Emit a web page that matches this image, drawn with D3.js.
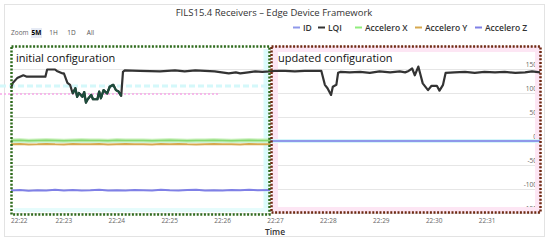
<!DOCTYPE html>
<html>
<head>
<meta charset="utf-8">
<script src="https://cdn.jsdelivr.net/npm/d3@7"></script>
<style>
  body { margin: 0; background: #fff; }
  svg { display: block; font-family: "Open Sans", sans-serif; }
</style>
</head>
<body>
<div id="chart"></div>
<script>
// ---- data (seconds after 22:22:00) ----
var lqiSec = [0,2,7,14,18,39,41,50,52,58,60,64,67,70,73,75,77,81,83,85,87,91,93,98,100,102,105,109,112,116,119,122,125,127,129,146,169,186,197,209,220,231,247,255,260,269,277,285,294,299,311,322,333,345,352,356,359,363,365,369,371,374,384,396,407,418,430,441,447,451,455,458,462,464,467,473,477,483,486,490,493,503,515,526,537,549,560,572,583,591,600];
var lqiVal = [110,121,131,137,134,134,149,149,146,141,141,121,117,99,110,92,100,92,102,80,87,96,87,87,103,89,106,99,113,117,106,103,94,144,147,146,145,147,145,147,146,145,141,143,141,143,145,144,145,146,146,145,146,146,146,117,110,96,113,117,142,144,143,144,142,145,143,145,143,146,151,137,155,141,120,106,115,115,105,117,142,143,144,142,144,143,144,142,143,145,143];

var accSec = [0,10,20,30,40,50,60,70,80,90,100,110,120,130,140,150,160,170,180,190,200,210,220,230,240,250,260,270,280,294];
var accX = [1,1.5,0.5,1,1.5,1,0.5,1,1.5,1,1,0.5,1.5,1,1,1,0.5,1,1.5,1,0.5,1,1,1.5,1,0.5,1,1.5,1,1];
var accY = [-7,-6.5,-7.5,-7,-6,-7,-7.5,-6.5,-7,-7,-6.5,-7.5,-7,-6.5,-7,-7,-7.5,-6.5,-7,-6,-7,-7.5,-7,-6.5,-7,-7,-7.5,-6.5,-7,-7];
var accZ = [-103,-102,-103.5,-102.5,-103,-101.5,-103,-102,-103,-102.5,-101.5,-103,-102.5,-103,-102,-102.5,-103,-101.5,-102.5,-103,-102,-101.5,-103,-102.5,-103,-102,-102.5,-101.5,-102.5,-102];

var idSec = [0, 600];
var idVal = [0, 0];

var yTicks = [-150, -100, -50, 0, 50, 100, 150];
var zoomButtons = ["5M", "1H", "1D", "All"];
var legendNames = ["ID", "LQI", "Accelero X", "Accelero Y", "Accelero Z"];
var colors = ["#8f98ea", "#333333", "#90ed7d", "#d6a84e", "#7f80e6"];

var t0 = new Date(2020, 0, 1, 22, 22, 0);
function toTime(s) { return new Date(t0.getTime() + s * 1000); }

var W = 550, H = 242;
var svg = d3.select("#chart").append("svg").attr("width", W).attr("height", H);

// outer frame
svg.append("rect").attr("x", 4.5).attr("y", 4.5).attr("width", 540).attr("height", 232)
  .attr("fill", "#fff").attr("stroke", "#e3e3e3");

var x = d3.scaleTime().domain([t0, toTime(600)]).range([11, 540]);
var y = d3.scaleLinear().domain([-150, 150]).range([213, 69]);

// title
svg.append("text").attr("x", 274).attr("y", 16).attr("text-anchor", "middle")
  .style("font-size", "9.5px").style("fill", "#333")
  .text("FILS15.4 Receivers \u2013 Edge Device Framework");

// zoom buttons
svg.append("text").attr("x", 11).attr("y", 35).style("font-size", "6.5px").style("fill", "#666").text("Zoom");
svg.append("rect").attr("x", 31).attr("y", 28).attr("width", 11).attr("height", 10).attr("fill", "#e6ebf5");
var bx = [36.5, 53.5, 71.5, 90.5];
zoomButtons.forEach(function(b, i) {
  svg.append("text").attr("x", bx[i]).attr("y", 35).attr("text-anchor", "middle")
    .style("font-size", "6.5px").style("fill", i == 0 ? "#000" : "#555")
    .style("font-weight", i == 0 ? "bold" : "normal").text(b);
});

// legend
var legX = [293, 318, 355, 415, 475];
legendNames.forEach(function(n, i) {
  svg.append("line").attr("x1", legX[i]).attr("x2", legX[i] + 7).attr("y1", 27.5).attr("y2", 27.5)
    .attr("stroke", colors[i]).attr("stroke-width", 2);
  svg.append("text").attr("x", legX[i] + 10).attr("y", 30.5)
    .style("font-size", "8.5px").style("font-weight", 600).style("fill", "#333").text(n);
});

// grid
svg.append("g").selectAll("line").data(yTicks).enter().append("line")
  .attr("x1", 11).attr("x2", 540)
  .attr("y1", function(d) { return y(d) + 0.5; }).attr("y2", function(d) { return y(d) + 0.5; })
  .attr("stroke", "#e6e6e6");

// y labels (right, inside)
svg.append("g").selectAll("text").data(yTicks).enter().append("text")
  .attr("x", 537).attr("y", function(d) { return y(d) - 2; }).attr("text-anchor", "end")
  .style("font-size", "6.5px").style("fill", "#666").text(function(d) { return d; });

// x labels
var fmt = d3.timeFormat("%H:%M");
var xt = x.ticks(d3.timeMinute.every(1)).filter(function(d) { return d < toTime(600); });
svg.append("g").selectAll("text").data(xt).enter().append("text")
  .attr("x", function(d) { return x(d); })
  .attr("y", 223).attr("text-anchor", function(d, i) { return i == 0 ? "start" : "middle"; })
  .style("font-size", "6.5px").style("fill", "#666").text(fmt);

svg.append("text").attr("x", 275).attr("y", 235).attr("text-anchor", "middle")
  .style("font-size", "8.5px").style("font-weight", 600).style("fill", "#333").text("Time");

// annotation tints
svg.append("line").attr("x1", 266).attr("x2", 266).attr("y1", 49).attr("y2", 212)
  .attr("stroke", "#dcfbfb").attr("stroke-width", 5);
svg.append("line").attr("x1", 14).attr("x2", 268).attr("y1", 210).attr("y2", 210)
  .attr("stroke", "#e6fcfc").attr("stroke-width", 4);
svg.append("rect").attr("x", 275).attr("y", 49).attr("width", 263).attr("height", 161)
  .attr("fill", "none").attr("stroke", "#fde6f4").attr("stroke-width", 6);
svg.append("line").attr("x1", 0).attr("x2", 268).attr("y1", 86).attr("y2", 86)
  .attr("stroke", "#d4f8fa").attr("stroke-width", 3).attr("stroke-dasharray", "6,3");
svg.append("line").attr("x1", 0).attr("x2", 220).attr("y1", 94).attr("y2", 94)
  .attr("stroke", "#f7a6e8").attr("stroke-width", 1.5).attr("stroke-dasharray", "2,2");

// series
function makeLine() {
  return d3.line().x(function(d) { return x(toTime(d[0])); }).y(function(d) { return y(d[1]); });
}
function draw(sec, val, color, w) {
  var pts = sec.map(function(s, i) { return [s, val[i]]; });
  svg.append("path").datum(pts).attr("d", makeLine()).attr("fill", "none")
    .attr("stroke", color).attr("stroke-width", w).attr("stroke-linejoin", "round");
  return pts;
}
draw(idSec, idVal, "#d4f6fa", 4);
draw(idSec, idVal, colors[0], 2);
draw(accSec, accX, "#c4efb6", 4);
draw(accSec, accX, "#86d86f", 1.6);
draw(accSec, accY, colors[3], 2);
draw(accSec, accZ, colors[4], 2);
var lqiPts = draw(lqiSec, lqiVal, "#333", 2.2);
// dip segment shows darker teal in the picture
var dip = lqiPts.filter(function(d) { return d[0] >= 70 && d[0] <= 125; });
svg.append("path").datum(dip).attr("d", makeLine()).attr("fill", "none")
  .attr("stroke", "#1e4c3c").attr("stroke-width", 2.2).attr("stroke-linejoin", "round");

// annotation boxes
svg.append("rect").attr("x", 11.5).attr("y", 46.5).attr("width", 258).attr("height", 168)
  .attr("fill", "none").attr("stroke", "#2e6a1c").attr("stroke-width", 2.5).attr("stroke-dasharray", "2,1.6");
svg.append("rect").attr("x", 271.5).attr("y", 46.5).attr("width", 269).attr("height", 166)
  .attr("fill", "none").attr("stroke", "#6e2a12").attr("stroke-width", 2.5).attr("stroke-dasharray", "2,1.6");

svg.append("text").attr("x", 16).attr("y", 62).style("font-size", "11px").style("fill", "#111").text("initial configuration");
svg.append("text").attr("x", 278).attr("y", 62).style("font-size", "11px").style("fill", "#111").text("updated configuration");
</script>
</body>
</html>
